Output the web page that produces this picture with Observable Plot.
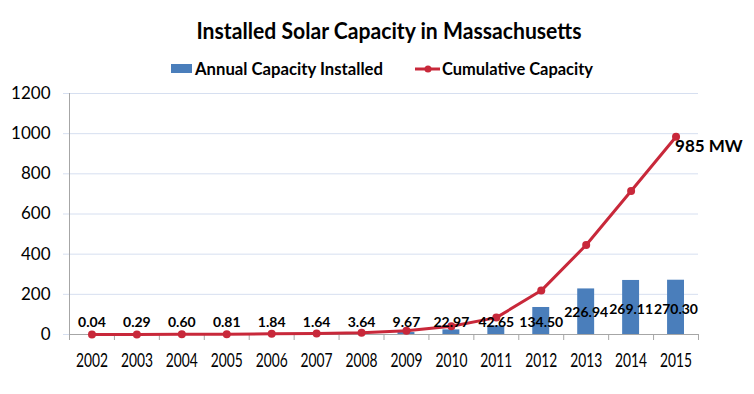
<!DOCTYPE html>
<html><head><meta charset="utf-8">
<script src="https://cdn.jsdelivr.net/npm/d3@7"></script>
<script src="https://cdn.jsdelivr.net/npm/@observablehq/plot@0.6"></script>
<style>
html,body{margin:0;padding:0;background:#fff;overflow:hidden;}
#wrap{position:relative;width:754px;height:394px;font-family:Lato,sans-serif;color:#000;}
#head{position:absolute;left:0;top:0;}
#chart{position:absolute;left:0;top:82px;}
</style></head>
<body><div id="wrap">
<svg id="head" width="754" height="82"></svg>
<div id="chart"></div>
</div>
<script>
const titleText = "Installed Solar Capacity in Massachusetts";
const seriesNames = ["Annual Capacity Installed", "Cumulative Capacity"];
const years = ["2002","2003","2004","2005","2006","2007","2008","2009","2010","2011","2012","2013","2014","2015"];
const annual = [0.04,0.29,0.60,0.81,1.84,1.64,3.64,9.67,22.97,42.65,134.50,226.94,269.11,270.30];
const cumulative = [0.04,0.33,0.93,1.74,3.58,5.22,8.86,18.53,41.50,84.15,218.65,445.59,714.70,985.00];
const yTicks = [0,200,400,600,800,1000,1200];
const endLabel = "985 MW";

const barColor = "#4a7ebb";
const lineColor = "#c8283a";
const font = "Lato, sans-serif";

// Header: title + legend
const hs = d3.select("#head").style("font-family", font);
hs.append("text").attr("x", 389).attr("y", 39).attr("text-anchor", "middle")
  .attr("font-size", 22).attr("font-weight", "bold").attr("fill", "#000")
  .attr("textLength", 385).attr("lengthAdjust", "spacingAndGlyphs").text(titleText);
hs.append("rect").attr("x",171).attr("y",64).attr("width",21).attr("height",9).attr("fill",barColor);
hs.append("text").attr("x", 195).attr("y", 75).attr("font-size", 16.5).attr("font-weight", "bold")
  .attr("textLength", 188).attr("lengthAdjust", "spacingAndGlyphs").text(seriesNames[0]);
hs.append("line").attr("x1",415).attr("x2",440).attr("y1",69).attr("y2",69).attr("stroke",lineColor).attr("stroke-width",3);
hs.append("circle").attr("cx",428).attr("cy",69).attr("r",3.5).attr("fill",lineColor);
hs.append("text").attr("x", 442).attr("y", 75).attr("font-size", 16.5).attr("font-weight", "bold")
  .attr("textLength", 151).attr("lengthAdjust", "spacingAndGlyphs").text(seriesNames[1]);

const rows = years.map((year,i)=>({year, annual: annual[i], cumulative: cumulative[i], label: annual[i].toFixed(2)}));
const W = 754, ML = 69, MR = 56;
const bw = (W - ML - MR) / years.length;
const lbl = {fontSize: 14, fontWeight: "bold", fill: "#000"};

const chart = Plot.plot({
  width: W, height: 312,
  marginTop: 11, marginBottom: 60, marginLeft: ML, marginRight: MR,
  style: {background: "white", color: "#000", fontFamily: font},
  x: {type: "band", domain: years, padding: 0, round: false, label: null},
  y: {domain: [0, 1200], ticks: yTicks, tickFormat: d => String(d), label: null},
  marks: [
    Plot.gridY(yTicks, {stroke: "#d6dff0", strokeOpacity: 1}),
    Plot.barY(rows, {x: "year", y: "annual", fill: barColor, insetLeft: 14, insetRight: 14}),
    Plot.frame({anchor: "left", stroke: "#a6a6a6"}),
    Plot.ruleY([0], {stroke: "#a6a6a6"}),
    Plot.ruleX(years, {x: d => d, y1: 0, y2: 0, insetBottom: -6, dx: -bw/2, stroke: "#a6a6a6"}),
    Plot.ruleX(years.slice(-1), {x: d => d, y1: 0, y2: 0, insetBottom: -6, dx: bw/2, stroke: "#a6a6a6"}),
    Plot.line(rows, {x: "year", y: "cumulative", stroke: lineColor, strokeWidth: 3}),
    Plot.dot(rows, {x: "year", y: "cumulative", r: 4, fill: lineColor}),
    Plot.text(rows.slice(0, 11), {x: "year", y: d => 0, text: "label", dy: -12, ...lbl}),
    Plot.text(rows.slice(11, 12), {x: "year", y: d => 0, text: "label", dy: -22, ...lbl}),
    Plot.text(rows.slice(12), {x: "year", y: d => 0, text: "label", dy: -25, ...lbl}),
    Plot.text(rows.slice(-1), {x: "year", y: "cumulative", text: d => endLabel, textAnchor: "start", dx: -1, dy: 10, fontSize: 17, fontWeight: "bold", fill: "#000"}),
    Plot.axisX({tickSize: 0, tickPadding: 19, fontSize: 19, fill: "#000"}),
    Plot.axisY({ticks: yTicks, tickFormat: d => String(d), tickSize: 6, tickPadding: 13, fontSize: 17, stroke: "#d6dff0", fill: "#000"})
  ]
});
document.getElementById("chart").appendChild(chart);
// condense the year labels horizontally (reference uses a narrow face)
d3.select(chart).selectAll('g[aria-label="x-axis tick label"] text').each(function() {
  const len = this.getComputedTextLength();
  if (!len) return;
  const k = 32 / len;
  const t = this.getAttribute("transform") || "";
  this.setAttribute("transform", `${t} scale(${k},1)`);
});
</script>
</body></html>
